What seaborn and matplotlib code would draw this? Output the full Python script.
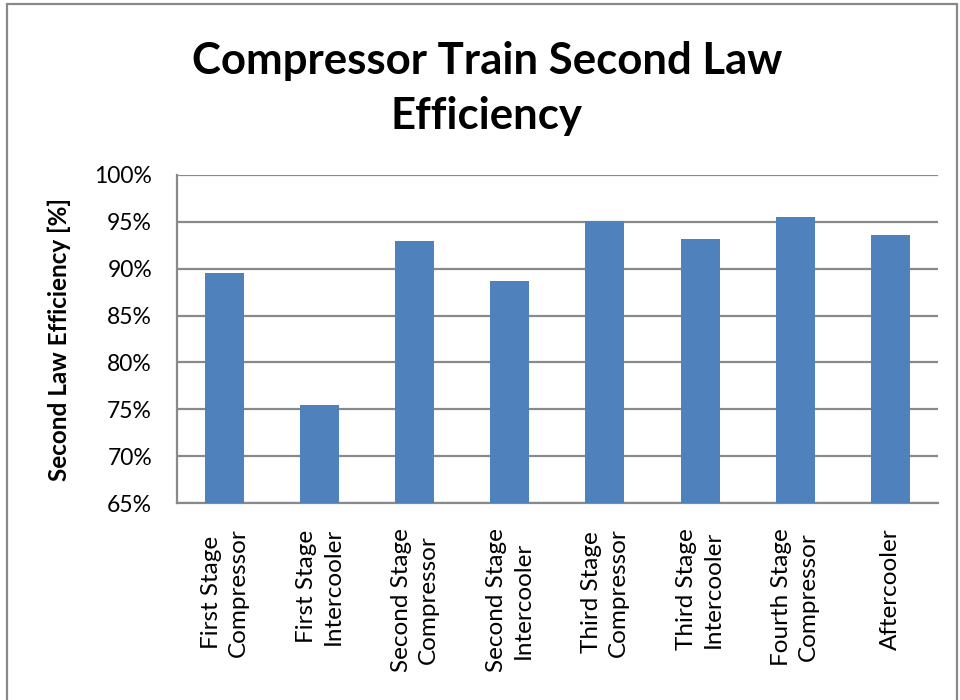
import seaborn as sns
import pandas as pd
import matplotlib.pyplot as plt
from matplotlib.lines import Line2D
from matplotlib.ticker import FuncFormatter

# Stage labels and second law efficiency
stages = ["First Stage\nCompressor", "First Stage\nIntercooler",
          "Second Stage\nCompressor", "Second Stage\nIntercooler",
          "Third Stage\nCompressor", "Third Stage\nIntercooler",
          "Fourth Stage\nCompressor", "Aftercooler"]
efficiency = [89.5, 75.5, 93.0, 88.7, 95.05, 93.2, 95.55, 93.6]
y_ticks = [65, 70, 75, 80, 85, 90, 95, 100]

df = pd.DataFrame({"stage": stages, "eff": efficiency})

sns.set_style("white")
plt.rcParams['font.family'] = ['Lato', 'DejaVu Sans']
plt.rcParams['text.color'] = 'black'

fig = plt.figure(figsize=(9.6, 7.0), dpi=100)
ax = fig.add_axes([0.1844, 0.2814, 0.7925, 0.4686])

sns.barplot(data=df, x="stage", y="eff", color="#4f81bd", saturation=1,
            width=0.41, linewidth=0, ax=ax, zorder=3)

ax.set_ylim(65, 100)
ax.set_xlim(-0.5, len(stages) - 0.5)
ax.set_yticks(y_ticks)
ax.yaxis.set_major_formatter(FuncFormatter(lambda v, p: f"{v:.0f}%"))
ax.grid(axis="y", color="#898989", linewidth=1.6, zorder=0)
ax.tick_params(axis="both", length=0, colors="black")
ax.tick_params(axis="y", pad=18, labelsize=16.5)
ax.tick_params(axis="x", pad=18, labelsize=17.5)
for lab in ax.get_xticklabels():
    lab.set_rotation(90)
    lab.set_multialignment("center")
    lab.set_va("top")
    lab.set_linespacing(1.35)

for side in ["top", "right"]:
    ax.spines[side].set_visible(False)
for side in ["left", "bottom"]:
    ax.spines[side].set_color("#898989")
    ax.spines[side].set_linewidth(1.6)

ax.set_xlabel("")
ax.set_ylabel("Second Law Efficiency [%]", fontsize=17.5, fontweight="bold",
              labelpad=17, color="black")

fig.text(0.507, 0.873, "Compressor Train Second Law\nEfficiency", ha="center", va="center",
         fontsize=31.5, fontweight="bold", linespacing=1.45, color="black")

# chart area border
for xs, ys in [([0.007, 0.007], [0.0, 0.994]), ([0.007, 0.997], [0.994, 0.994]),
               ([0.997, 0.997], [0.0, 0.994])]:
    fig.add_artist(Line2D(xs, ys, color="#898989", linewidth=1.6, transform=fig.transFigure))

fig.savefig("out.png", dpi=100)
